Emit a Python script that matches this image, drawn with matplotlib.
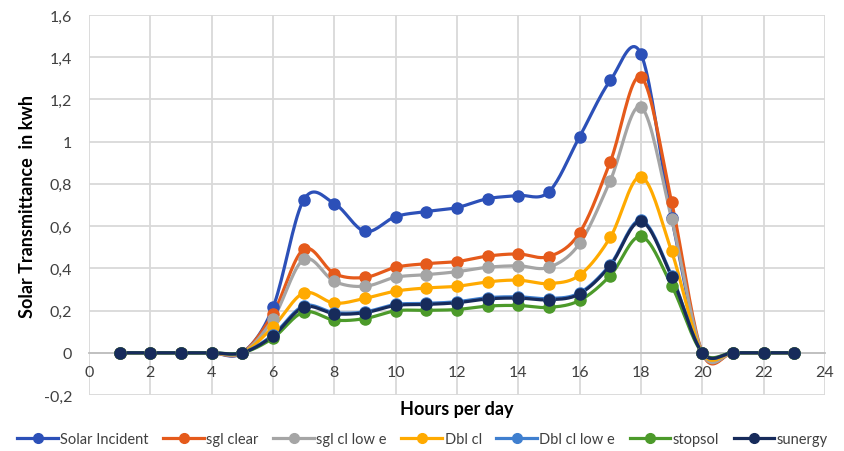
import numpy as np
import matplotlib
matplotlib.use("Agg")
import matplotlib.pyplot as plt
from matplotlib.ticker import FuncFormatter

hours = list(range(1, 24))

solar_incident = [0, 0, 0, 0, 0, 0.215, 0.724, 0.707, 0.575, 0.645, 0.669, 0.688, 0.73, 0.745, 0.763, 1.024, 1.29, 1.415, 0.64, 0, 0, 0, 0]
sgl_clear      = [0, 0, 0, 0, 0, 0.185, 0.49, 0.375, 0.357, 0.405, 0.422, 0.432, 0.458, 0.468, 0.456, 0.569, 0.905, 1.306, 0.713, 0, 0, 0, 0]
sgl_cl_low_e   = [0, 0, 0, 0, 0, 0.16, 0.442, 0.338, 0.315, 0.358, 0.37, 0.384, 0.405, 0.412, 0.405, 0.518, 0.816, 1.164, 0.633, 0, 0, 0, 0]
dbl_cl         = [0, 0, 0, 0, 0, 0.122, 0.283, 0.235, 0.258, 0.292, 0.307, 0.315, 0.336, 0.344, 0.328, 0.368, 0.547, 0.834, 0.48, 0, 0, 0, 0]
dbl_cl_low_e   = [0, 0, 0, 0, 0, 0.085, 0.222, 0.19, 0.194, 0.229, 0.234, 0.242, 0.261, 0.265, 0.257, 0.284, 0.418, 0.628, 0.365, 0, 0, 0, 0]
stopsol        = [0, 0, 0, 0, 0, 0.07, 0.193, 0.155, 0.162, 0.199, 0.201, 0.205, 0.221, 0.224, 0.215, 0.248, 0.366, 0.551, 0.318, 0, 0, 0, 0]
sunergy        = [0, 0, 0, 0, 0, 0.08, 0.216, 0.185, 0.19, 0.224, 0.229, 0.237, 0.255, 0.259, 0.251, 0.279, 0.413, 0.622, 0.36, 0, 0, 0, 0]

series_names = ["Solar Incident", "sgl clear", "sgl cl low e", "Dbl cl", "Dbl cl low e", "stopsol", "sunergy"]
series_values = [solar_incident, sgl_clear, sgl_cl_low_e, dbl_cl, dbl_cl_low_e, stopsol, sunergy]
colors = ["#2C50B8", "#E55A1B", "#A5A5A5", "#FFAA00", "#3F7FCF", "#4C9A2A", "#172B5B"]

x_ticks = list(range(0, 25, 2))
y_ticks = [-0.2, 0, 0.2, 0.4, 0.6, 0.8, 1.0, 1.2, 1.4, 1.6]


def smooth(x, y, n=20):
    """Excel-like smoothing: Catmull-Rom through points (Bezier with 1/6 tangents)."""
    x = np.asarray(x, float)
    y = np.asarray(y, float)
    px = np.concatenate([[x[0]], x, [x[-1]]])
    py = np.concatenate([[y[0]], y, [y[-1]]])
    xs, ys = [], []
    t = np.linspace(0, 1, n)
    for i in range(1, len(px) - 2):
        p0 = np.array([px[i], py[i]])
        p3 = np.array([px[i + 1], py[i + 1]])
        c1 = p0 + (np.array([px[i + 1], py[i + 1]]) - np.array([px[i - 1], py[i - 1]])) / 6
        c2 = p3 - (np.array([px[i + 2], py[i + 2]]) - np.array([px[i], py[i]])) / 6
        b = ((1 - t) ** 3)[:, None] * p0 + (3 * (1 - t) ** 2 * t)[:, None] * c1 \
            + (3 * (1 - t) * t ** 2)[:, None] * c2 + (t ** 3)[:, None] * p3
        xs.append(b[:, 0] if i == 1 else b[1:, 0])
        ys.append(b[:, 1] if i == 1 else b[1:, 1])
    return np.concatenate(xs), np.concatenate(ys)


plt.rcParams['font.family'] = ['Lato', 'DejaVu Sans']

fig = plt.figure(figsize=(8.45, 4.52), dpi=100)
ax = fig.add_axes([89 / 845, 1 - 396 / 452, (825 - 89) / 845, (396 - 16) / 452])

for name, vals, c in zip(series_names, series_values, colors):
    sx, sy = smooth(hours, vals)
    ax.plot(sx, sy, color=c, lw=2.3, zorder=3, solid_capstyle='round')
    ax.plot(hours, vals, 'o', color=c, ms=8, zorder=4)
    ax.plot([], [], '-o', color=c, lw=2.3, ms=7, label=name)

ax.set_xlim(0, 24)
ax.set_ylim(-0.2, 1.6)
ax.set_xticks(x_ticks)
ax.set_yticks(y_ticks)

fmt = FuncFormatter(lambda v, p: ("%g" % round(v, 2)).replace(".", ","))
ax.xaxis.set_major_formatter(fmt)
ax.yaxis.set_major_formatter(fmt)

ax.grid(True, color="#D9D9D9", lw=1.3, zorder=0)
ax.set_axisbelow(True)
for s in ["top", "right", "left"]:
    ax.spines[s].set_visible(False)
ax.spines["bottom"].set_position(("data", 0))
ax.spines["bottom"].set_color("#BFBFBF")
ax.spines["bottom"].set_linewidth(1.3)
ax.tick_params(axis='both', length=0, labelsize=11.5, colors="#404040")
ax.tick_params(axis='x', pad=9)
ax.tick_params(axis='y', pad=12)

fig.text(457 / 845, 1 - 410 / 452, "Hours per day", ha='center', va='center',
         fontsize=13, fontweight='bold', color="black")
fig.text(28 / 845, 1 - 207 / 452, "Solar Transmittance  in kwh", ha='center', va='center',
         rotation=90, fontsize=13, fontweight='bold', color="black")

fig.legend(loc='center', bbox_to_anchor=(0.5, 1 - 440 / 452), ncol=7, frameon=False,
           fontsize=10.5, handlelength=2.8, handletextpad=0.15, columnspacing=1.0,
           labelcolor="#404040")

fig.savefig("out.png", dpi=100)
